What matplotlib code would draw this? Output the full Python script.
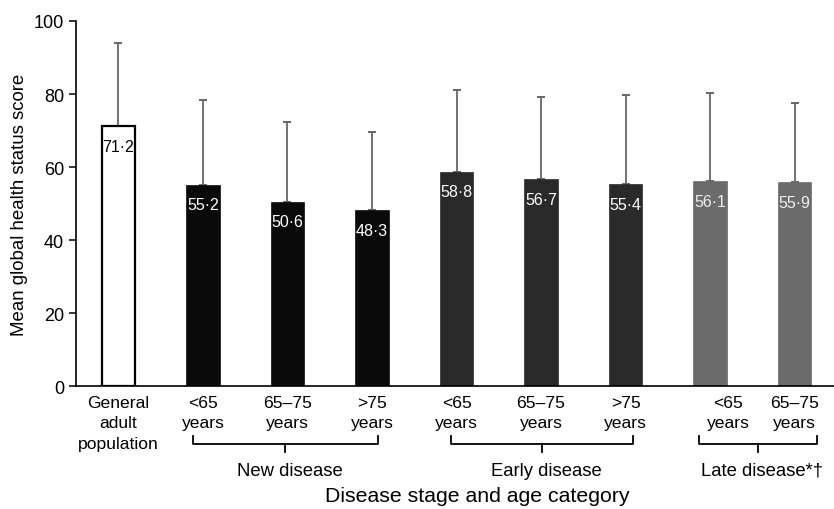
import matplotlib
matplotlib.use("Agg")
import matplotlib.pyplot as plt
import matplotlib.transforms as mtransforms
import numpy as np

plt.rcParams['font.family'] = ['Liberation Sans', 'DejaVu Sans']

# ---- data ----
tick_labels = ["General\nadult\npopulation",
               "<65\nyears", "65\u201375\nyears", ">75\nyears",
               "<65\nyears", "65\u201375\nyears", ">75\nyears",
               "<65\nyears", "65\u201375\nyears"]
means = [71.2, 55.2, 50.6, 48.3, 58.8, 56.7, 55.4, 56.1, 55.9]
sds = [22.7, 23.3, 21.8, 21.4, 22.2, 22.4, 24.4, 24.1, 21.6]
group_names = ["New disease", "Early disease", "Late disease*\u2020"]
group_first = [1, 4, 7]
group_last = [3, 6, 8]

# ---- styles ----
bar_colors = ["white", "#0a0a0a", "#0a0a0a", "#0a0a0a",
              "#2a2a2a", "#2a2a2a", "#2a2a2a", "#6b6b6b", "#6b6b6b"]
label_colors = ["black"] + ["white"] * 6 + ["#eeeeee"] * 2
bracket_pad = [(-0.12, 0.07), (-0.07, 0.09), (-0.13, 0.26)]

fig = plt.figure(figsize=(8.34, 5.10), dpi=100)
ax = fig.add_axes([0.0911, 0.2402, 1.0 - 0.0911, 0.9569 - 0.2402])

x = np.arange(len(means))
bars = ax.bar(x, means, width=0.4, color=bar_colors, edgecolor=["black"] + bar_colors[1:],
              linewidth=[1.6] + [0.5] * 8, zorder=2)
ax.errorbar(x, means, yerr=[np.zeros(len(sds)), sds], fmt="none",
            ecolor="#666666", elinewidth=1.3, capsize=3, capthick=1.4, zorder=1)

for xi, m, c in zip(x, means, label_colors):
    ax.annotate(f"{m:.1f}".replace(".", "\u00b7"), (xi, m), xytext=(0, -14.5),
                textcoords="offset points", ha="center", va="center",
                fontsize=11.5, color=c, zorder=3)

ax.set_xlim(-0.503, 8.467)
ax.set_ylim(0, 100)
ax.set_yticks([0, 20, 40, 60, 80, 100])
ax.tick_params(axis="y", labelsize=13, length=5, width=1.1, direction="out")
ax.set_xticks(x)
ax.set_xticklabels(tick_labels, fontsize=12.6, linespacing=1.45)
ax.tick_params(axis="x", length=0, pad=6)
# shift the late-disease "<65 years" label as in the reference
lbl = ax.get_xticklabels()[7]
lbl.set_transform(lbl.get_transform() + mtransforms.ScaledTranslation(18 / 100, 0, fig.dpi_scale_trans))

for s in ["top", "right"]:
    ax.spines[s].set_visible(False)
ax.spines["left"].set_linewidth(1.2)
ax.spines["bottom"].set_linewidth(1.2)
ax.spines["left"].set_bounds(0, 100)

ax.set_ylabel("Mean global health status score", fontsize=13.4, labelpad=4)

# group brackets
trans = mtransforms.blended_transform_factory(ax.transData, fig.transFigure)
y_top = 1 - 437 / 510
y_line = 1 - 445 / 510
y_tick = 1 - 453 / 510
y_text = 1 - 471 / 510
for name, f, l, (p0, p1) in zip(group_names, group_first, group_last, bracket_pad):
    x0, x1 = f + p0, l + p1
    xm = (x0 + x1) / 2
    ax.plot([x0, x0, x1, x1], [y_top, y_line, y_line, y_top], transform=trans,
            color="black", lw=1.3, clip_on=False, solid_joinstyle="round")
    ax.plot([xm, xm], [y_line, y_tick], transform=trans, color="black", lw=1.3, clip_on=False)
    ax.text(xm + 0.05, y_text, name, transform=trans, ha="center", va="center", fontsize=13.3)

fig.text(477.5 / 834, 1 - 497 / 510, "Disease stage and age category", ha="center", va="center",
         fontsize=15.3)

fig.savefig("out.png", dpi=100)
